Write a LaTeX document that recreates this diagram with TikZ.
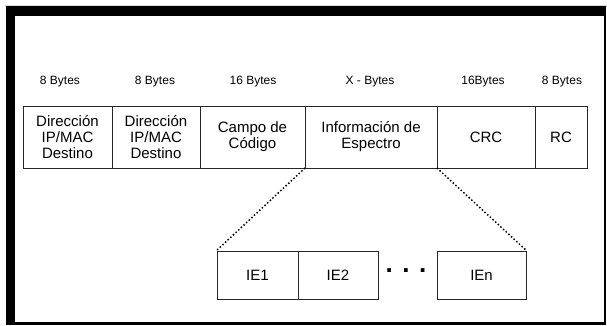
\documentclass[tikz,border=0pt]{standalone}
\usepackage{fontspec}
\setmainfont{Liberation Sans}
\begin{document}
\begin{tikzpicture}[x=1pt,y=-1pt,
  field/.style={draw=black!85, line width=0.9pt, rectangle, inner sep=0pt, align=center,
    font=\fontsize{15}{16}\selectfont},
  bytes/.style={font=\fontsize{12}{13}\selectfont, inner sep=0pt},
  zoomline/.style={line width=2.1pt, dash pattern=on 0pt off 3.6pt, line cap=round}]
\useasboundingbox (0,0) rectangle (607,325);
% frame
\fill[black!15] (5,5) rectangle (607,7);
\fill[black] (6,6) rectangle (606,16);
\fill[black] (6,6) rectangle (15,325);
\fill[black] (604,6) rectangle (606,325);
\fill[black] (6,322) rectangle (606,325);
% top row
\node[field, minimum width=89pt, minimum height=62pt] (b1) at (67.5,137) {Dirección\\IP/MAC\\Destino};
\node[field, minimum width=88pt, minimum height=62pt] (b2) at (156,137) {Dirección\\IP/MAC\\Destino};
\node[field, minimum width=105pt, minimum height=62pt] (b3) at (252.5,137) {Campo de\\Código};
\node[field, minimum width=132pt, minimum height=62pt] (b4) at (371,137) {Información de\\Espectro};
\node[field, minimum width=98pt, minimum height=62pt] (b5) at (486,137) {CRC};
\node[field, minimum width=52pt, minimum height=62pt] (b6) at (561,137) {RC};
% byte labels
\node[bytes] (l1) at (60,82) {8 Bytes};
\node[bytes] (l2) at (155,82) {8 Bytes};
\node[bytes] (l3) at (253,82) {16 Bytes};
\node[bytes] (l4) at (370,82) {X - Bytes};
\node[bytes] (l5) at (483,82) {16Bytes};
\node[bytes] (l6) at (562,82) {8 Bytes};
% bottom row
\node[field, minimum width=81pt, minimum height=48pt] (e1) at (257.5,275) {IE1};
\node[field, minimum width=80pt, minimum height=48pt] (e2) at (338,275) {IE2};
\node[field, minimum width=89pt, minimum height=48pt] (en) at (481.5,275) {IEn};
\node[font=\bfseries\fontsize{26}{26}\selectfont, inner sep=0pt] (dots) at (406,271) {. . .};
% zoom lines
\draw[zoomline] (b4.south west) -- (e1.north west);
\draw[zoomline] (b4.south east) -- (en.north east);
\end{tikzpicture}
\end{document}
